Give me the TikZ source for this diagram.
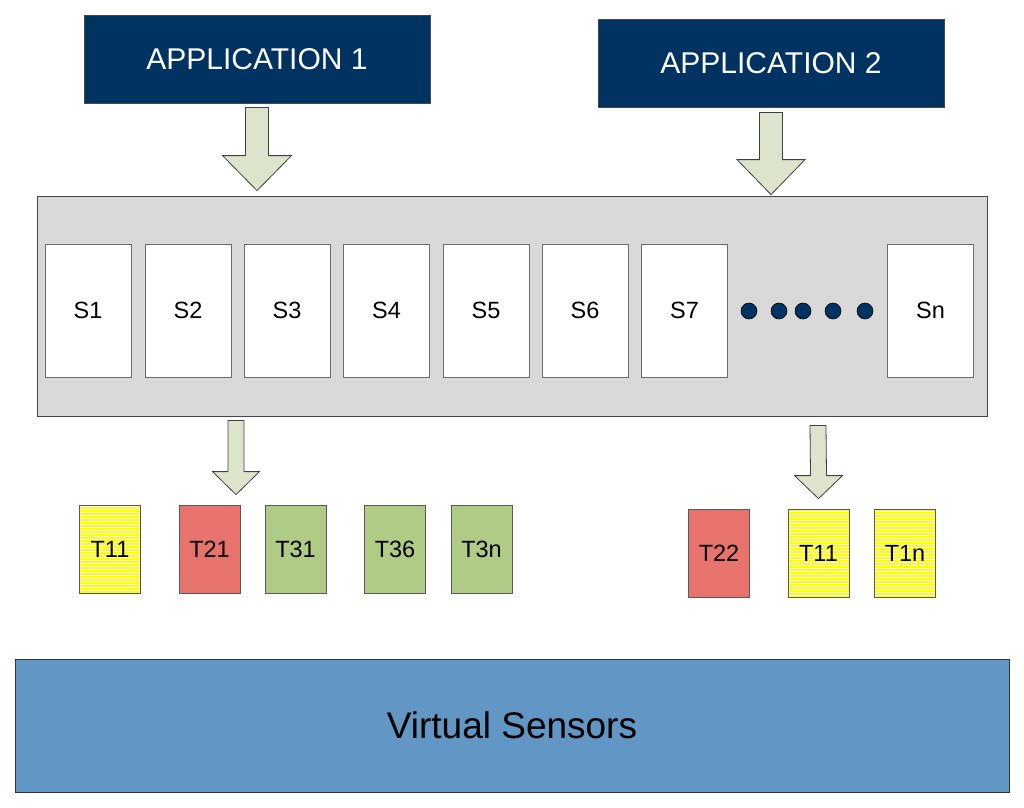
\documentclass[tikz,border=0pt]{standalone}
\usepackage{fontspec}
\setmainfont{Liberation Sans}
\usetikzlibrary{calc}
\definecolor{navy}{RGB}{0,51,98}
\definecolor{contgray}{RGB}{217,217,217}
\definecolor{arrowgreen}{RGB}{221,228,204}
\definecolor{tred}{RGB}{232,115,108}
\definecolor{tgreen}{RGB}{175,203,133}
\definecolor{tyellow}{RGB}{255,255,0}
\definecolor{vblue}{RGB}{98,150,196}
\definecolor{edge}{RGB}{70,70,70}
\tikzset{
  appbox/.style={draw=edge, fill=navy, text=white, font=\fontsize{30}{34}\selectfont, minimum width=346pt, minimum height=88pt, inner sep=0pt, line width=0.8pt},
  container/.style={draw=edge, fill=contgray, minimum width=950pt, minimum height=220pt, inner sep=0pt, line width=0.8pt},
  sbox/.style={draw=edge!80, fill=white, font=\fontsize{23.5}{26}\selectfont, minimum width=86pt, minimum height=133pt, inner sep=0pt, line width=0.8pt},
  tbox/.style={draw=edge!90, font=\fontsize{23.5}{26}\selectfont, minimum width=61pt, minimum height=88pt, inner sep=0pt, line width=0.8pt},
  tredbox/.style={tbox, fill=tred},
  tgreenbox/.style={tbox, fill=tgreen},
  tyellowbox/.style={tbox, fill=tyellow, path picture={
      \foreach \k in {1.5,4.5,...,90} \draw[white, line width=0.8pt]
        ([yshift=-\k pt]path picture bounding box.north west) -- ([yshift=-\k pt]path picture bounding box.north east);}},
  dotnode/.style={circle, draw=black, fill=navy, minimum size=16pt, inner sep=0pt, line width=0.6pt},
  vsbox/.style={draw=black!80, fill=vblue, font=\fontsize{37}{40}\selectfont, minimum width=994pt, minimum height=133pt, inner sep=0pt, line width=0.8pt},
  blockarrow/.style={draw=black!75, fill=arrowgreen, line width=0.8pt, line join=miter}
}
\newcommand{\myblockarrow}[5]{%
  \draw[blockarrow] ($(#1)+(-#3,0)$) -- ($(#2)+(-#3,-#5)$) -- ($(#2)+(-#4,-#5)$) -- (#2)
    -- ($(#2)+(#4,-#5)$) -- ($(#2)+(#3,-#5)$) -- ($(#1)+(#3,0)$) -- cycle;}
\begin{document}
\begin{tikzpicture}[x=1pt,y=-1pt]
\useasboundingbox (0,0) rectangle (1024,807);
% applications
\node[appbox] (app1) at (257,59) {APPLICATION 1};
\node[appbox] (app2) at (771,63.5) {APPLICATION 2};
% container
\node[container] (cont) at (512,306) {};
% S boxes
\foreach \n/\x in {1/88,2/188,3/287,4/386.5,5/486,6/585,7/684.5}
  \node[sbox] (s\n) at (\x,310.5) {S\n};
\node[sbox] (sn) at (930.5,310.5) {Sn};
% dots
\foreach \i/\x in {1/749,2/779,3/803,4/833,5/865}
  \node[dotnode] (d\i) at (\x,311) {};
% T boxes left
\node[tyellowbox] (t11a) at (110,549) {T11};
\node[tredbox]    (t21)  at (209.5,549) {T21};
\node[tgreenbox]  (t31)  at (295.5,549) {T31};
\node[tgreenbox]  (t36)  at (395,549) {T36};
\node[tgreenbox]  (t3n)  at (481.5,549) {T3n};
% T boxes right
\node[tredbox]    (t22)  at (719,553.5) {T22};
\node[tyellowbox] (t11b) at (818.5,553.5) {T11};
\node[tyellowbox] (t1n)  at (905,553.5) {T1n};
% virtual sensors
\node[vsbox] (vs) at (512,725.5) {Virtual Sensors};
% arrow endpoints
\coordinate (a1top) at ($(app1.south)+(0,4)$);
\coordinate (a1tip) at ($(cont.north)+(-255,-5)$);
\coordinate (a2top) at ($(app2.south)+(0,4.5)$);
\coordinate (a2tip) at ($(cont.north)+(259,-1)$);
\coordinate (a3top) at ($(cont.south)+(-276,4)$);
\coordinate (a3tip) at ($(t21.north)+(26.5,-10)$);
\coordinate (a4top) at ($(cont.south)+(306,9)$);
\coordinate (a4tip) at ($(t11b.north)+(0,-10.5)$);
\myblockarrow{a1top}{a1tip}{11.5}{34.5}{35}
\myblockarrow{a2top}{a2tip}{11.5}{34}{35}
\myblockarrow{a3top}{a3tip}{8}{23.5}{23}
\myblockarrow{a4top}{a4tip}{8}{24}{23}
\end{tikzpicture}
\end{document}
